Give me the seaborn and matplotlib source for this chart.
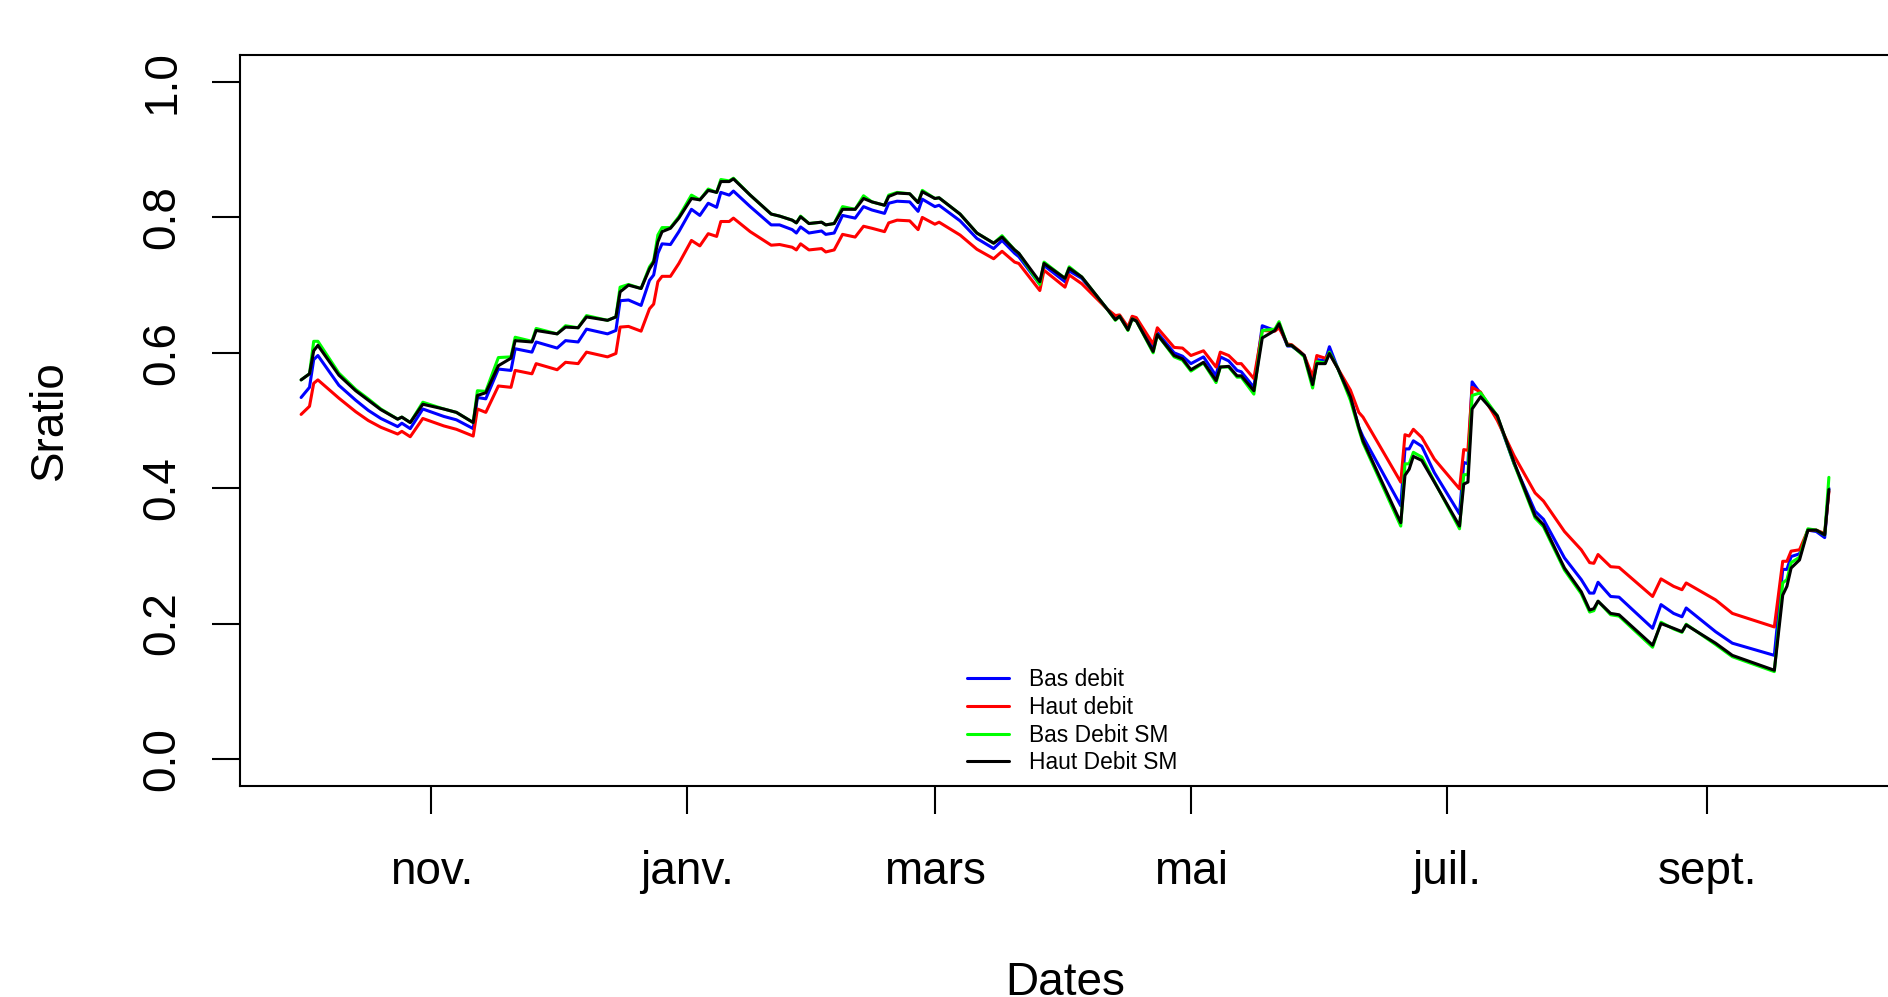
import pandas as pd
import matplotlib
matplotlib.use('Agg')
import matplotlib.pyplot as plt
import seaborn as sns

#   day offsets from the start of the hydrological year
start = pd.Timestamp('2018-10-01')
days = [0, 2, 3, 4, 9, 13, 16, 19, 23, 24, 26, 29, 34, 37, 41, 42, 44, 47, 50, 51,
        55, 56, 61, 63, 66, 68, 73, 75, 76, 78, 81, 83, 84, 85, 86, 88, 90, 93, 95, 97,
        99, 100, 102, 103, 107, 112, 114, 117, 118, 119, 121, 124, 125, 127, 129, 132, 134, 136, 139, 140,
        142, 145, 147, 148, 151, 152, 157, 161, 165, 167, 170, 171, 176, 177, 182, 183, 186, 192, 194, 195,
        197, 198, 199, 203, 204, 208, 210, 212, 215, 218, 219, 221, 223, 224, 227, 229, 232, 233, 235, 236,
        238, 239, 241, 242, 244, 245, 247, 250, 252, 253, 262, 263, 264, 265, 267, 270, 276, 277, 278, 279,
        281, 285, 289, 294, 296, 301, 305, 307, 308, 309, 312, 314, 322, 324, 327, 329, 330, 337, 341, 351,
        353, 354, 355, 357, 359, 361, 363, 364]

haut_debit_sm = [.560, .569, .603, .611, .567, .544, .530, .516, .502, .505, .497, .524, .517, .512, .497, .537, .541, .581, .592, .618,
                 .616, .633, .628, .638, .637, .653, .648, .653, .690, .700, .695, .724, .734, .764, .779, .784, .799, .828, .826, .840,
                 .837, .853, .853, .857, .833, .805, .802, .796, .792, .801, .791, .793, .789, .791, .812, .812, .828, .823, .818, .831,
                 .836, .835, .822, .838, .828, .829, .805, .777, .762, .771, .752, .747, .705, .732, .710, .725, .712, .665, .649, .654,
                 .634, .650, .647, .602, .627, .596, .591, .575, .586, .559, .579, .580, .566, .566, .544, .622, .633, .643, .611, .611,
                 .601, .596, .553, .584, .584, .599, .577, .535, .490, .470, .349, .419, .428, .447, .441, .409, .344, .406, .409, .517,
                 .535, .507, .438, .359, .346, .282, .247, .220, .222, .233, .215, .213, .168, .200, .193, .188, .198, .171, .153, .131,
                 .242, .255, .282, .294, .338, .338, .331, .398]

bas_debit_sm = [.560, .569, .617, .617, .570, .546, .532, .517, .502, .505, .497, .527, .517, .512, .497, .544, .543, .593, .594, .623,
                .617, .636, .628, .640, .637, .655, .648, .653, .697, .701, .695, .727, .736, .774, .785, .785, .801, .833, .826, .842,
                .837, .856, .854, .858, .833, .805, .802, .796, .792, .802, .791, .793, .789, .791, .816, .812, .832, .823, .818, .833,
                .837, .835, .822, .840, .828, .829, .805, .777, .762, .773, .752, .747, .701, .734, .710, .727, .712, .665, .648, .654,
                .633, .650, .647, .600, .627, .594, .589, .573, .585, .556, .579, .579, .564, .564, .539, .633, .635, .646, .611, .611,
                .600, .594, .548, .587, .585, .601, .577, .530, .487, .467, .344, .436, .436, .453, .446, .410, .340, .420, .420, .537,
                .541, .507, .436, .356, .343, .279, .244, .217, .219, .233, .213, .211, .165, .202, .192, .187, .199, .169, .151, .129,
                .260, .265, .290, .298, .340, .338, .331, .416]

bas_debit = [.534, .549, .590, .596, .552, .530, .515, .503, .491, .496, .488, .517, .506, .501, .488, .534, .532, .576, .574, .606,
             .601, .616, .607, .618, .616, .635, .628, .633, .677, .678, .670, .707, .715, .747, .761, .760, .779, .812, .803, .821,
             .815, .837, .833, .839, .816, .789, .789, .782, .777, .786, .777, .780, .775, .777, .803, .799, .816, .811, .806, .821,
             .824, .823, .809, .827, .816, .818, .795, .769, .754, .766, .747, .742, .701, .729, .705, .721, .710, .665, .651, .655,
             .636, .652, .649, .606, .630, .600, .595, .584, .594, .566, .594, .588, .574, .572, .549, .640, .633, .641, .610, .610,
             .601, .596, .555, .590, .588, .609, .577, .535, .490, .476, .374, .458, .458, .470, .462, .423, .362, .438, .436, .557,
             .540, .505, .436, .366, .354, .297, .265, .245, .245, .261, .240, .239, .193, .228, .215, .210, .223, .188, .171, .153,
             .280, .280, .299, .303, .338, .336, .327, .400]

haut_debit = [.509, .521, .555, .560, .533, .513, .500, .490, .480, .484, .476, .503, .492, .487, .477, .517, .512, .551, .549, .574,
              .569, .584, .575, .586, .584, .601, .594, .599, .638, .639, .632, .665, .672, .705, .713, .713, .732, .766, .758, .776,
              .772, .794, .794, .799, .779, .759, .760, .756, .752, .761, .752, .754, .749, .752, .775, .771, .787, .784, .779, .792,
              .796, .795, .782, .800, .790, .793, .774, .753, .739, .750, .734, .732, .692, .722, .697, .715, .702, .665, .655, .656,
              .638, .654, .652, .613, .637, .608, .607, .596, .603, .579, .601, .596, .584, .584, .562, .633, .632, .637, .613, .612,
              .602, .596, .565, .596, .592, .599, .577, .545, .512, .505, .409, .479, .477, .487, .475, .443, .399, .457, .456, .549,
              .542, .500, .448, .393, .381, .336, .309, .290, .289, .302, .284, .283, .240, .266, .255, .250, .260, .235, .215, .195,
              .292, .292, .307, .309, .338, .338, .333, .395]

series = [('Bas debit', bas_debit, '#0000FF'),
          ('Haut debit', haut_debit, '#FF0000'),
          ('Bas Debit SM', bas_debit_sm, '#00FF00'),
          ('Haut Debit SM', haut_debit_sm, '#000000')]

month_ticks = ['2018-11-01', '2019-01-01', '2019-03-01', '2019-05-01', '2019-07-01', '2019-09-01']
month_labels = ['nov.', 'janv.', 'mars', 'mai', 'juil.', 'sept.']
y_ticks = [0.0, 0.2, 0.4, 0.6, 0.8, 1.0]

dates = start + pd.to_timedelta(days, unit='D')

sns.set_theme(style='ticks')
plt.rcParams['font.family'] = ['Liberation Sans', 'DejaVu Sans']
plt.rcParams['text.color'] = 'black'
plt.rcParams['axes.labelcolor'] = 'black'

fig = plt.figure(figsize=(18.88, 9.97), dpi=100)
ax = fig.add_axes([240 / 1888, 1 - 786 / 997, 1650 / 1888, 731 / 997])

for name, values, colour in series:
    sns.lineplot(x=dates, y=values, color=colour, label=name, linewidth=2.2, ax=ax)

#   R style axis ranges (4% padding)
span = dates[-1] - dates[0]
ax.set_xlim(dates[0] - span * 0.04, dates[-1] + span * 0.04)
ax.set_ylim(-0.04, 1.04)

ax.set_xticks(pd.to_datetime(month_ticks))
ax.set_xticklabels(month_labels)
ax.set_yticks(y_ticks)
ax.set_yticklabels(['%.1f' % v for v in y_ticks], rotation=90, va='center')
ax.tick_params(axis='both', labelsize=33, length=20, width=1.5, colors='black')
ax.tick_params(axis='x', pad=26)
ax.tick_params(axis='y', pad=20)

for spine in ax.spines.values():
    spine.set_visible(True)
    spine.set_color('black')
    spine.set_linewidth(1.5)

ax.set_xlabel('Dates', fontsize=33, va='center')
ax.xaxis.set_label_coords(0.5, -0.2695)
ax.set_ylabel('Sratio', fontsize=33, va='center')
ax.yaxis.set_label_coords(-0.115, 0.5)

ax.legend(loc='upper left', bbox_to_anchor=(967 / 1888, 1 - 668 / 997), bbox_transform=fig.transFigure,
          frameon=False, fontsize=16.4, handlelength=1.84, handletextpad=0.88, labelspacing=0.21,
          borderpad=0, borderaxespad=0)

plt.savefig('out.png', dpi=100)
